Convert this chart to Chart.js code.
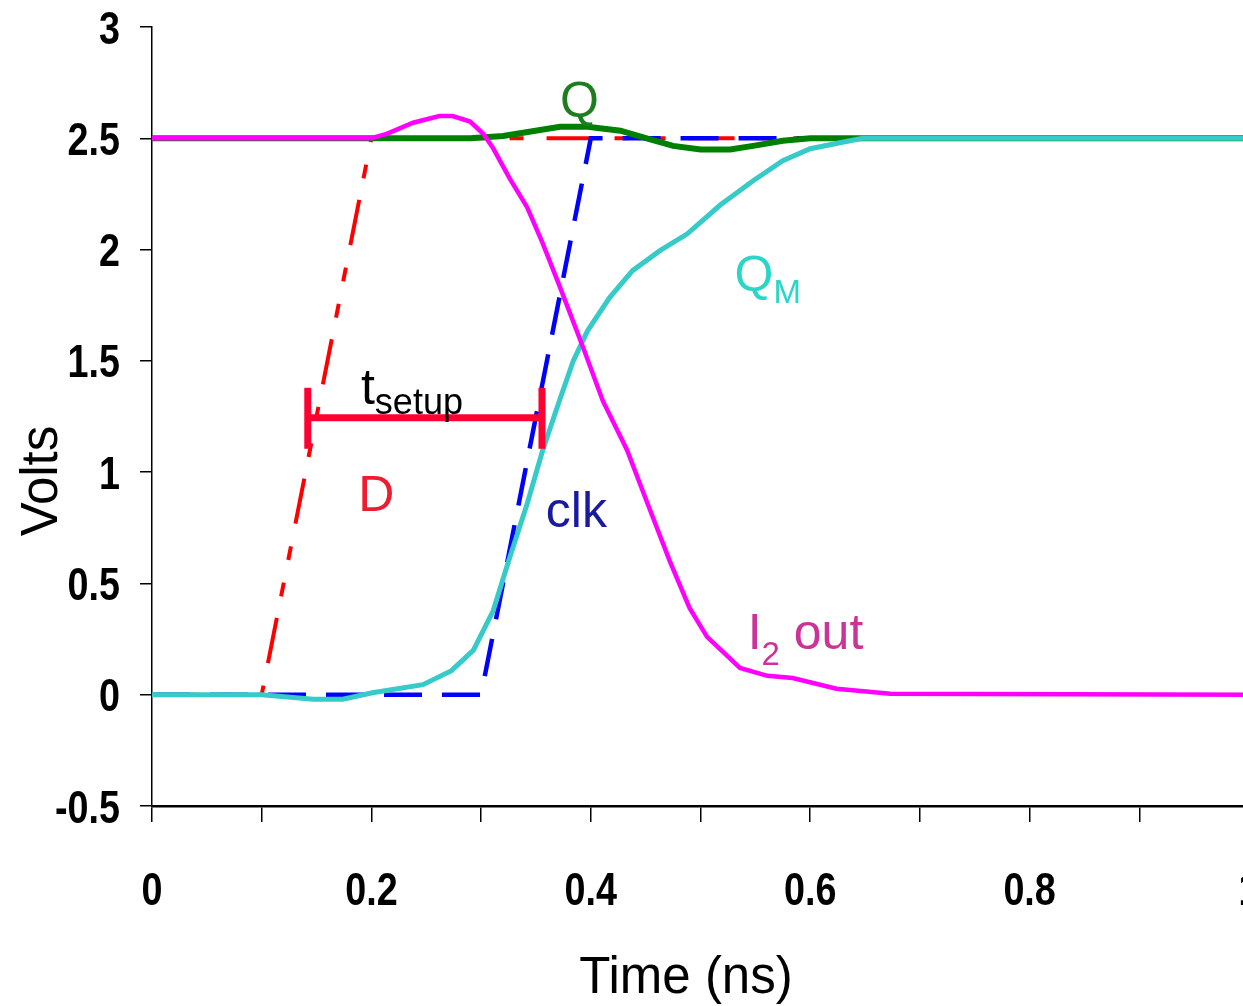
<!DOCTYPE html>
<html>
<head>
<meta charset="utf-8">
<title>Setup time</title>
<script src="https://cdn.jsdelivr.net/npm/chart.js@4/dist/chart.umd.min.js"></script>
<style>
  html, body { margin: 0; padding: 0; background: #fff; overflow: hidden; }
  canvas { display: block; }
</style>
</head>
<body>
<canvas id="chart" width="1275" height="1006"></canvas>
<script>
// waveforms (time in ns, volts)
const dTime = [0, 0.1, 0.2, 1];
const dVolt = [0, 0, 2.5, 2.5];

const clkTime = [0, 0.3, 0.4, 1];
const clkVolt = [0, 0, 2.5, 2.5];

const qTime = [0, 0.29, 0.32, 0.372, 0.397, 0.427, 0.451, 0.475, 0.5, 0.527, 0.548, 0.575, 0.6, 1];
const qVolt = [2.5, 2.5, 2.51, 2.552, 2.552, 2.534, 2.5, 2.466, 2.45, 2.45, 2.466, 2.489, 2.5, 2.5];

const qmTime = [0, 0.1, 0.147, 0.174, 0.201, 0.247, 0.273, 0.293, 0.311, 0.326, 0.342, 0.356, 0.372,
                0.384, 0.397, 0.417, 0.438, 0.463, 0.488, 0.518, 0.548, 0.575, 0.6, 0.627, 0.648, 1];
const qmVolt = [0, 0, -0.02, -0.02, 0.009, 0.045, 0.108, 0.2, 0.377, 0.615, 0.858, 1.096, 1.33,
                1.5, 1.635, 1.783, 1.905, 1.995, 2.071, 2.2, 2.309, 2.399, 2.453, 2.48, 2.5, 2.5];

const i2Time = [0, 0.2, 0.214, 0.238, 0.262, 0.274, 0.29, 0.302, 0.311, 0.326, 0.342, 0.356, 0.372,
                0.393, 0.411, 0.433, 0.454, 0.472, 0.49, 0.506, 0.536, 0.561, 0.584, 0.624, 0.673, 1];
const i2Volt = [2.5, 2.5, 2.52, 2.57, 2.6, 2.6, 2.575, 2.52, 2.455, 2.32, 2.19, 2.03, 1.83,
                1.56, 1.32, 1.1, 0.83, 0.6, 0.39, 0.26, 0.12, 0.085, 0.075, 0.027, 0.004, 0];

// t_setup marker: from D crossing to clk crossing
const setupTime = [0.142, 0.3555];
const setupVolt = 1.244;
const capVolt = [1.105, 1.379];

const xTicks = [0, 0.2, 0.4, 0.6, 0.8, 1];

const zip = (ts, vs) => ts.map((t, i) => ({ x: t, y: vs[i] }));

const FONT = "'Liberation Sans', Arial, sans-serif";

// curve labels, placed in data units
const curveLabels = [
  { parts: [['Q', 50, 0]], t: 0.372, v: 2.597, color: '#1e7d1e' },
  { parts: [['Q', 50, 0], ['M', 33, 12]], t: 0.531, v: 1.815, color: '#2ad6c8' },
  { parts: [['D', 50, 0]], t: 0.188, v: 0.827, color: '#ee1c2e' },
  { parts: [['clk', 50, 0]], t: 0.359, v: 0.755, color: '#1a1aa0' },
  { parts: [['I', 50, 0], ['2', 33, 16], [' out', 50, 0]], t: 0.543, v: 0.207, color: '#cc3399' },
  { parts: [['t', 50, 0], ['setup', 36, 10]], t: 0.1905, v: 1.307, color: '#000' }
];

// condensed bold tick text (no narrow font installed, so squeeze the regular one)
function narrowText(ctx, txt, px, py, align) {
  ctx.save();
  ctx.translate(px, py);
  ctx.scale(0.82, 1);
  ctx.textAlign = align;
  ctx.fillText(txt, 0, 0);
  ctx.restore();
}

const labelPlugin = {
  id: 'labels',
  afterDraw(chart) {
    const { ctx, scales: { x, y } } = chart;
    ctx.save();
    ctx.textBaseline = 'alphabetic';

    // tick labels
    ctx.fillStyle = '#000';
    ctx.font = `bold 46px ${FONT}`;
    y.ticks.forEach(t => {
      const py = y.getPixelForValue(t.value);
      narrowText(ctx, String(Math.round(t.value * 10) / 10), y.right - 32, py + 16.5, 'right');
    });
    x.ticks.forEach(t => {
      const hit = xTicks.find(v => Math.abs(v - t.value) < 1e-6);
      if (hit === undefined) return;
      narrowText(ctx, String(hit), x.getPixelForValue(hit), x.top + 99, 'center');
    });

    // curve labels
    ctx.textAlign = 'left';
    curveLabels.forEach(l => {
      let px = x.getPixelForValue(l.t);
      const py = y.getPixelForValue(l.v);
      ctx.fillStyle = l.color;
      l.parts.forEach(([txt, size, drop]) => {
        ctx.font = `${size}px ${FONT}`;
        ctx.fillText(txt, px, py + drop);
        px += ctx.measureText(txt).width;
      });
    });

    // axis titles
    ctx.fillStyle = '#000';
    ctx.font = `51px ${FONT}`;
    ctx.textAlign = 'center';
    ctx.fillText('Time (ns)', 686, 993);
    ctx.translate(57, 481);
    ctx.rotate(-Math.PI / 2);
    ctx.fillText('Volts', 0, 0);
    ctx.restore();
  }
};

const line = (data, color, width, dash) => ({
  data, borderColor: color, borderWidth: width, borderDash: dash || [],
  pointRadius: 0, tension: 0, fill: false, borderCapStyle: 'butt'
});

const setupColor = '#ff0033';

new Chart(document.getElementById('chart'), {
  type: 'line',
  data: {
    datasets: [
      line([{ x: setupTime[0], y: setupVolt }, { x: setupTime[1], y: setupVolt }], setupColor, 7),
      line([{ x: setupTime[0], y: capVolt[0] }, { x: setupTime[0], y: capVolt[1] }], setupColor, 7),
      line([{ x: setupTime[1], y: capVolt[0] }, { x: setupTime[1], y: capVolt[1] }], setupColor, 7),
      line(zip(i2Time, i2Volt), '#ff00ff', 4.5),
      line(zip(qmTime, qmVolt), '#36cbc8', 5),
      line(zip(qTime, qVolt), '#008000', 6),
      line(zip(clkTime, clkVolt), '#0000ff', 4.5, [38, 20]),
      line(zip(dTime, dVolt), '#ff0000', 4, [46, 22, 14, 23, 14, 23])
    ]
  },
  options: {
    responsive: false,
    animation: false,
    layout: { padding: { top: 27, right: 26, left: 0, bottom: 0 } },
    plugins: { legend: { display: false }, tooltip: { enabled: false } },
    scales: {
      x: {
        type: 'linear', min: 0, max: 1,
        border: { color: '#000', width: 2.5 },
        grid: { drawOnChartArea: false, tickLength: 16, color: '#000', lineWidth: 1.5 },
        ticks: { stepSize: 0.1, autoSkip: false, display: false },
        afterFit: s => { s.height = 200; }
      },
      y: {
        min: -0.5, max: 3,
        border: { color: '#000', width: 1.5 },
        grid: { drawOnChartArea: false, tickLength: 12, color: '#000', lineWidth: 1.5 },
        ticks: { stepSize: 0.5, display: false },
        afterFit: s => { s.width = 152; }
      }
    }
  },
  plugins: [labelPlugin]
});
</script>
</body>
</html>
